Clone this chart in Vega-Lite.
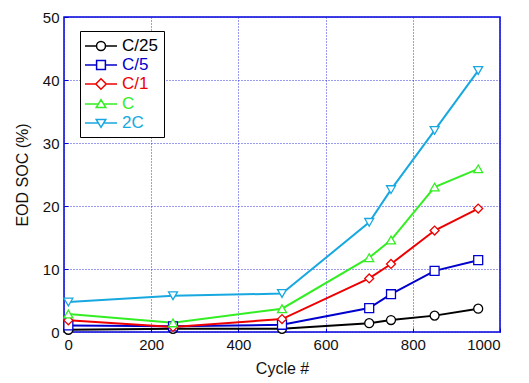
{
  "$schema": "https://vega.github.io/schema/vega-lite/v6.json",
  "width": 436,
  "height": 315,
  "autosize": "none",
  "padding": {"left": 64, "top": 17, "right": 29, "bottom": 51},
  "background": "white",
  "config": {
    "font": "Liberation Sans",
    "view": {"stroke": "#0000dd", "strokeWidth": 1.5},
    "axis": {
      "labelFont": "Liberation Sans",
      "titleFont": "Liberation Sans",
      "labelFontSize": 15,
      "titleFontSize": 16,
      "titleFontWeight": "normal",
      "labelColor": "#111",
      "titleColor": "#111",
      "domain": false,
      "gridColor": "#2222dd",
      "gridDash": [1, 2],
      "gridWidth": 1,
      "gridOpacity": 0.9,
      "tickColor": "#0000dd",
      "tickSize": -4,
      "labelPadding": 9
    },
    "point": {"filled": false, "fill": "white", "fillOpacity": 1, "strokeWidth": 1.3, "size": 80, "opacity": 1}
  },
  "data": {
    "values": [
      {"cycle": 10, "soc": 0.35, "rate": "C/25"},
      {"cycle": 250, "soc": 0.5, "rate": "C/25"},
      {"cycle": 500, "soc": 0.5, "rate": "C/25"},
      {"cycle": 700, "soc": 1.4, "rate": "C/25"},
      {"cycle": 750, "soc": 1.9, "rate": "C/25"},
      {"cycle": 850, "soc": 2.6, "rate": "C/25"},
      {"cycle": 950, "soc": 3.7, "rate": "C/25"},
      {"cycle": 10, "soc": 1.05, "rate": "C/5"},
      {"cycle": 250, "soc": 0.9, "rate": "C/5"},
      {"cycle": 500, "soc": 1.15, "rate": "C/5"},
      {"cycle": 700, "soc": 3.8, "rate": "C/5"},
      {"cycle": 750, "soc": 6.0, "rate": "C/5"},
      {"cycle": 850, "soc": 9.7, "rate": "C/5"},
      {"cycle": 950, "soc": 11.4, "rate": "C/5"},
      {"cycle": 10, "soc": 1.85, "rate": "C/1"},
      {"cycle": 250, "soc": 0.8, "rate": "C/1"},
      {"cycle": 500, "soc": 2.05, "rate": "C/1"},
      {"cycle": 700, "soc": 8.5, "rate": "C/1"},
      {"cycle": 750, "soc": 10.8, "rate": "C/1"},
      {"cycle": 850, "soc": 16.1, "rate": "C/1"},
      {"cycle": 950, "soc": 19.6, "rate": "C/1"},
      {"cycle": 10, "soc": 2.85, "rate": "C"},
      {"cycle": 250, "soc": 1.45, "rate": "C"},
      {"cycle": 500, "soc": 3.7, "rate": "C"},
      {"cycle": 700, "soc": 11.8, "rate": "C"},
      {"cycle": 750, "soc": 14.6, "rate": "C"},
      {"cycle": 850, "soc": 23.0, "rate": "C"},
      {"cycle": 950, "soc": 25.9, "rate": "C"},
      {"cycle": 10, "soc": 4.75, "rate": "2C"},
      {"cycle": 250, "soc": 5.75, "rate": "2C"},
      {"cycle": 500, "soc": 6.1, "rate": "2C"},
      {"cycle": 700, "soc": 17.4, "rate": "2C"},
      {"cycle": 750, "soc": 22.6, "rate": "2C"},
      {"cycle": 850, "soc": 32.0, "rate": "2C"},
      {"cycle": 950, "soc": 41.5, "rate": "2C"}
    ]
  },
  "encoding": {
    "x": {
      "field": "cycle",
      "type": "quantitative",
      "scale": {"domain": [0, 1000], "nice": false, "zero": false},
      "axis": {"values": [0, 200, 400, 600, 800, 1000], "format": "d", "title": "Cycle #", "titlePadding": 8}
    },
    "y": {
      "field": "soc",
      "type": "quantitative",
      "scale": {"domain": [0, 50], "nice": false},
      "axis": {"values": [0, 10, 20, 30, 40, 50], "title": "EOD SOC (%)", "titlePadding": 12}
    },
    "color": {
      "field": "rate",
      "type": "nominal",
      "scale": {
        "domain": ["C/25", "C/5", "C/1", "C", "2C"],
        "range": ["#000000", "#0000cc", "#ee0000", "#33ee22", "#18a8e0"]
      },
      "legend": {
        "title": null,
        "orient": "none",
        "legendX": 16,
        "legendY": 14,
        "strokeColor": "#000",
        "fillColor": "white",
        "padding": 6,
        "labelFont": "Liberation Sans",
        "labelFontSize": 17,
        "symbolSize": 256,
        "symbolOffset": 6,
        "labelOffset": 12,
        "symbolStrokeWidth": 1.5,
        "symbolFillColor": "white",
        "rowPadding": 2,
        "symbolType": {
          "expr": "datum.value === 'C/25' ? 'M-2,0H-0.56M0.56,0H2M0.56,0A0.56,0.56 0 1 1 -0.56,0A0.56,0.56 0 1 1 0.56,0Z' : datum.value === 'C/5' ? 'M-2,0H-0.55M0.55,0H2M-0.55,-0.55H0.55V0.55H-0.55Z' : datum.value === 'C/1' ? 'M-2,0H-0.65M0.65,0H2M0,-0.65L0.65,0L0,0.65L-0.65,0Z' : datum.value === 'C' ? 'M-2,0H-0.33M0.33,0H2M0,-0.55L0.6,0.45L-0.6,0.45Z' : 'M-2,0H-0.33M0.33,0H2M0,0.55L0.6,-0.45L-0.6,-0.45Z'"
        },
        "encode": {
          "labels": {"update": {"fill": {"scale": "color", "field": "value"}}}
        }
      }
    }
  },
  "layer": [
    {"mark": {"type": "line", "strokeWidth": 2}},
    {"transform": [{"filter": "datum.rate === 'C/25'"}], "mark": {"type": "point", "shape": "circle"}},
    {"transform": [{"filter": "datum.rate === 'C/5'"}], "mark": {"type": "point", "shape": "square"}},
    {"transform": [{"filter": "datum.rate === 'C/1'"}], "mark": {"type": "point", "shape": "diamond"}},
    {"transform": [{"filter": "datum.rate === 'C'"}], "mark": {"type": "point", "shape": "triangle-up"}},
    {"transform": [{"filter": "datum.rate === '2C'"}], "mark": {"type": "point", "shape": "triangle-down"}}
  ]
}
